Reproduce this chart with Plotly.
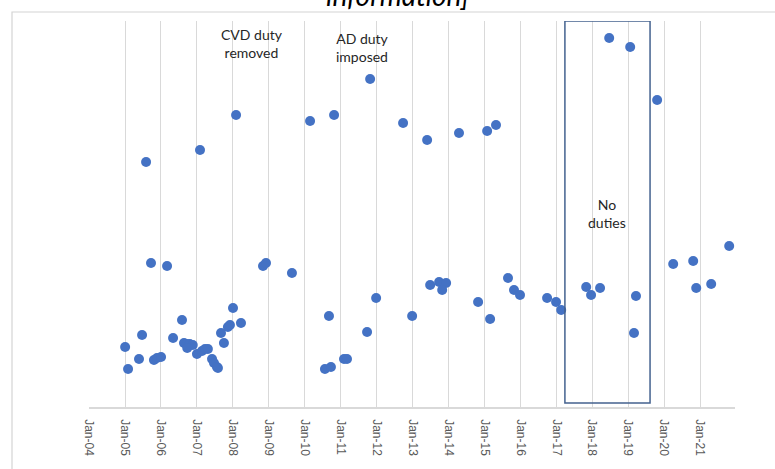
import plotly.graph_objects as go

dates = [
    "2005-08-03", "2007-02-02", "2008-02-03", "2010-02-24", "2010-10-26", "2011-10-27",
    "2012-09-26", "2013-05-28", "2014-04-17", "2015-01-28", "2015-04-28", "2018-06-21",
    "2019-01-20", "2019-10-21",
    "2005-01-02", "2005-02-01", "2005-05-23", "2005-06-23", "2005-09-22", "2005-10-22",
    "2005-11-22", "2006-01-02", "2006-03-04", "2006-05-04", "2006-08-03", "2006-08-23",
    "2006-09-20", "2006-10-20", "2006-11-20", "2006-09-25", "2007-01-02", "2007-02-22",
    "2007-03-25", "2007-04-23", "2007-06-04", "2007-06-24", "2007-07-24", "2007-08-03",
    "2007-09-03", "2007-10-03", "2007-11-12", "2007-12-03", "2008-01-03", "2008-03-24",
    "2008-11-03", "2008-12-03", "2009-08-24", "2010-07-25", "2010-09-24", "2010-09-04",
    "2011-02-04", "2011-03-06", "2011-09-26", "2011-12-27", "2012-12-27", "2013-06-28",
    "2013-09-27", "2013-12-07", "2013-10-28", "2014-10-28", "2015-02-27", "2015-08-28",
    "2015-10-28", "2015-12-28", "2016-09-28", "2016-12-28", "2017-02-18", "2017-10-30",
    "2017-12-19", "2018-03-20", "2019-03-20", "2019-02-28", "2020-04-01", "2020-10-21",
    "2020-11-21", "2021-04-22", "2021-10-22",
]
values = [
    245, 257, 292, 286, 292, 328,
    284, 267, 274, 276, 282, 369,
    360, 307,
    60, 38, 48, 72, 144, 47,
    49, 50, 141, 69, 87, 64,
    63, 63, 62, 59, 53, 56,
    58, 58, 48, 44, 40, 39,
    74, 64, 80, 82, 99, 84,
    141, 144, 134, 38, 40, 91,
    48, 48, 75, 109, 91, 122,
    125, 124, 117, 105, 88, 129,
    117, 112, 109, 105, 97, 120,
    112, 119, 111, 74, 143, 146,
    119, 123, 161,
]

events = ["CVD duty<br>removed", "AD duty<br>imposed", "No<br>duties"]
event_dates = ["2008-07-14", "2011-08-06", "2018-05-30"]
event_values = [364, 360, 194]

no_duty_start = "2017-03-28"
no_duty_end = "2019-08-10"

fig = go.Figure()
fig.add_trace(go.Scatter(
    x=dates, y=values, mode="markers",
    marker=dict(color="#4472C4", size=10, line=dict(width=0)),
    showlegend=False, hoverinfo="x+y",
))

fig.add_shape(type="rect", xref="x", yref="y",
              x0=no_duty_start, x1=no_duty_end, y0=4, y1=386,
              line=dict(color="#44628f", width=1.5), fillcolor="rgba(0,0,0,0)")

# outer chart border
fig.add_shape(type="rect", xref="paper", yref="paper",
              x0=-0.1192, x1=1.07, y0=-0.176, y1=1.0233,
              line=dict(color="#d4d4d4", width=1.2), layer="above")

for t, d, v in zip(events, event_dates, event_values):
    fig.add_annotation(x=d, y=v, xref="x", yref="y", text=t, showarrow=False,
                       font=dict(family="Lato", size=14, color="#262626"),
                       align="center")

fig.add_annotation(x=0.478, y=1.0674, xref="paper", yref="paper",
                   text="<i>information]</i>", showarrow=False, yanchor="middle",
                   font=dict(family="Lato", size=28, color="#000000"))

fig.update_layout(
    width=775, height=469,
    margin=dict(l=89, r=40, t=21, b=62),
    paper_bgcolor="white", plot_bgcolor="white",
    xaxis=dict(
        type="date", range=["2004-01-01", "2021-12-20"],
        tick0="2004-01-01", dtick="M12", tickformat="%b-%y",
        tickangle=90, showgrid=True, gridcolor="#d9d9d9", gridwidth=1,
        showline=True, linecolor="#d9d9d9", linewidth=1.5, ticks="",
        ticklabelstandoff=8,
        tickfont=dict(family="Liberation Sans", size=12, color="#595959"),
        zeroline=False,
    ),
    yaxis=dict(range=[0, 386], showgrid=False, showticklabels=False,
               showline=False, zeroline=False, ticks=""),
)

fig.write_html("out.html", config={"displayModeBar": False},
               post_script="document.body.style.margin='0px';")
